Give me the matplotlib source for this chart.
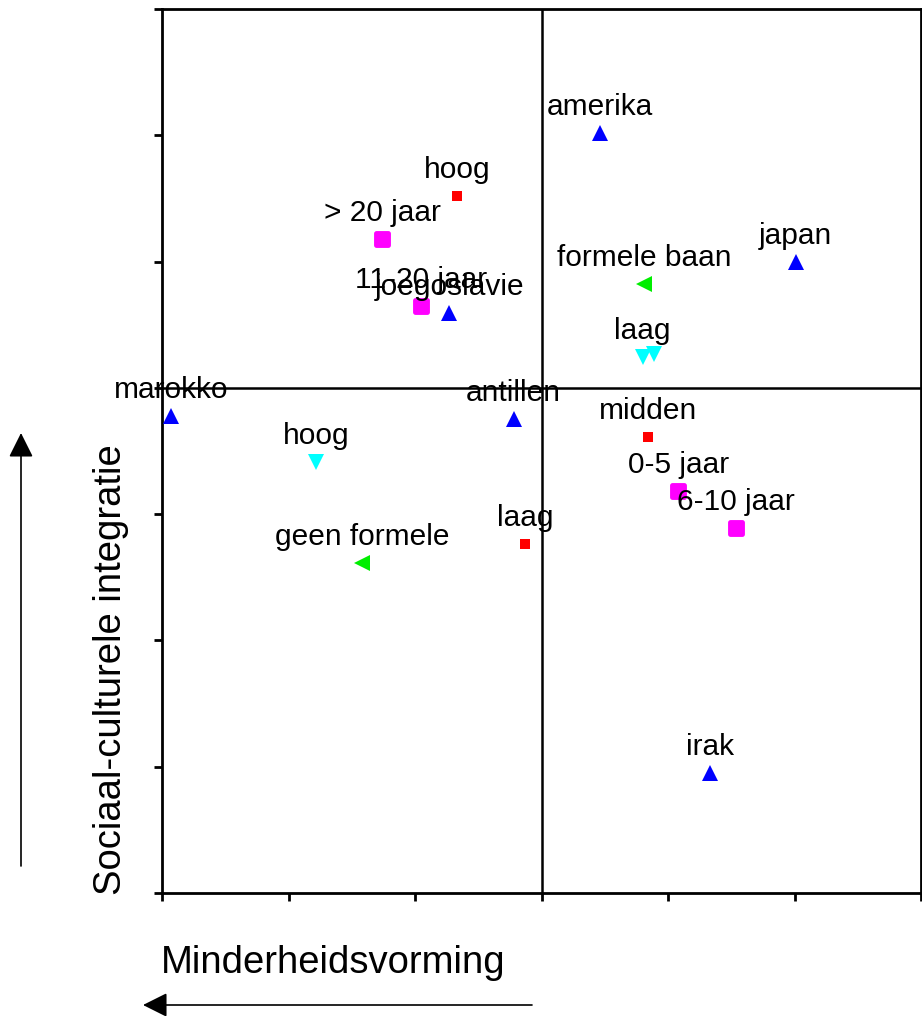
import matplotlib.pyplot as plt
from matplotlib.markers import MarkerStyle

plt.rcParams['font.family'] = ['Liberation Sans', 'DejaVu Sans']

# landen van herkomst
land_names = ['amerika', 'japan', 'joegoslavie', 'marokko', 'antillen', 'irak']
land_x = [0.46, 2.01, -0.73, -2.93, -0.22, 1.33]
land_y = [2.02, 1.00, 0.59, -0.22, -0.245, -3.05]

# opleiding
opl_names = ['hoog', 'midden', 'laag']
opl_x = [-0.67, 0.845, -0.13]
opl_y = [1.52, -0.39, -1.24]

# verblijfsduur
duur_names = ['> 20 jaar', '11-20 jaar', '0-5 jaar', '6-10 jaar']
duur_x = [-1.26, -0.955, 1.08, 1.54]
duur_y = [1.18, 0.65, -0.82, -1.11]

# werk
werk_names = ['formele baan', 'geen formele']
werk_x = [0.81, -1.42]
werk_y = [0.82, -1.39]

# inkomen
ink_names = ['laag', '', 'hoog']
ink_x = [0.80, 0.89, -1.78]
ink_y = [0.245, 0.27, -0.59]

fig = plt.figure(figsize=(9.22, 10.16), dpi=100)
ax = fig.add_axes([162 / 922, 123 / 1016, 759 / 922, 884 / 1016])

ax.set_xlim(-3, 3)
ax.set_ylim(-4, 3)
ax.set_xticks(range(-3, 4))
ax.set_yticks(range(-4, 4))
ax.set_xticklabels([])
ax.set_yticklabels([])
ax.tick_params(direction='out', length=6, width=2.0, color='black')
for sp in ax.spines.values():
    sp.set_linewidth(2.0)

ax.axvline(0, color='black', lw=1.8, zorder=1)
ax.axhline(0, color='black', lw=1.8, zorder=1)

groups = [
    (land_names, land_x, land_y, '^', '#0000ff', 11, 0),
    (opl_names, opl_x, opl_y, 's', '#ff0000', 7.5, 0),
    (duur_names, duur_x, duur_y, MarkerStyle('s', joinstyle='round'), '#ff00ff', 9, 3.5),
    (werk_names, werk_x, werk_y, '<', '#00ee00', 11, 0),
    (ink_names, ink_x, ink_y, 'v', '#00ffff', 11, 0),
]

for names, xs, ys, marker, color, size, ew in groups:
    ax.plot(xs, ys, linestyle='none', marker=marker, color=color,
            markersize=size, markeredgewidth=ew, markeredgecolor=color,
            zorder=3, clip_on=False)
    for name, x, y in zip(names, xs, ys):
        ax.annotate(name, (x, y), xytext=(0, 13), textcoords='offset points',
                    ha='center', va='baseline', fontsize=21.5, zorder=4,
                    annotation_clip=False)

# assen titels met pijlen
fig.text(333 / 922, 1 - 963 / 1016, 'Minderheidsvorming', fontsize=27.5,
         ha='center', va='center')
fig.text(111 / 922, 1 - 670 / 1016, 'Sociaal-culturele integratie',
         fontsize=27.5, rotation=90, ha='center', va='center')

arrow = dict(arrowstyle='-|>,head_length=1.5,head_width=0.75', color='black',
             lw=1.2, shrinkA=0, shrinkB=0)
ax.annotate('', xy=(143, 1016 - 1005), xytext=(532, 1016 - 1005),
            xycoords='figure pixels', textcoords='figure pixels',
            arrowprops=arrow)
ax.annotate('', xy=(21, 1016 - 433), xytext=(21, 1016 - 866),
            xycoords='figure pixels', textcoords='figure pixels',
            arrowprops=arrow)

fig.savefig('out.png', dpi=100)
